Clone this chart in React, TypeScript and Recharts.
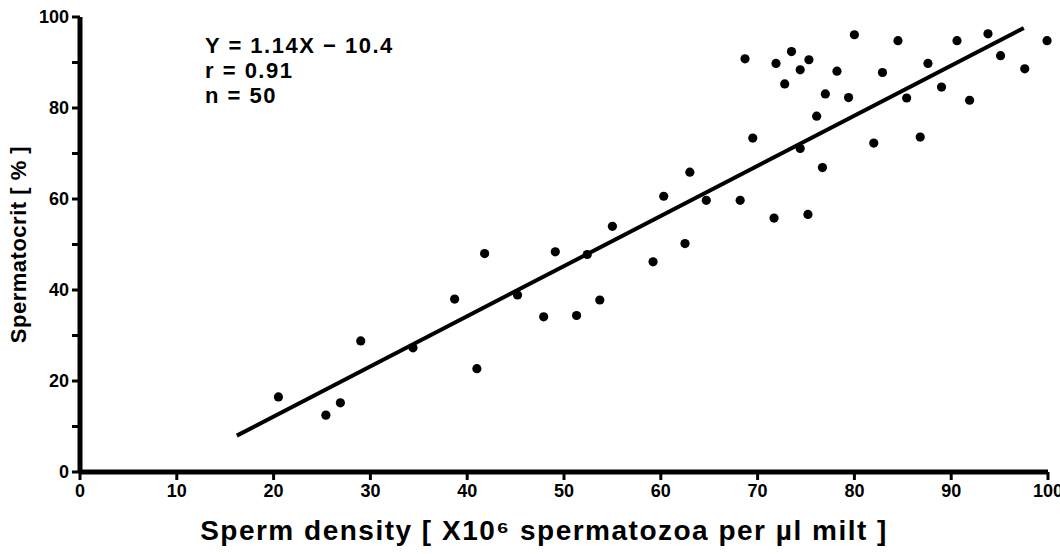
import {
  ReferenceLine,
  Scatter,
  ScatterChart,
  XAxis,
  YAxis,
} from "recharts";

// sperm density (x10^6 per µl)
const densityX = [
  20.5, 25.4, 26.9, 29.0, 34.4, 38.7, 41.0, 41.8, 45.2, 47.9,
  49.1, 51.3, 52.4, 53.7, 55.0, 59.2, 60.3, 62.5, 63.0, 64.7,
  68.2, 69.5, 68.7, 71.7, 71.9, 72.8, 73.5, 74.4, 75.3, 74.4,
  75.2, 76.1, 76.7, 77.0, 78.2, 79.4, 80.0, 82.0, 82.9, 84.5,
  85.4, 86.8, 87.6, 89.0, 90.6, 91.9, 93.8, 95.1, 97.6, 99.9,
];

// spermatocrit (%)
const spermatocritY = [
  16.5, 12.5, 15.2, 28.8, 27.3, 38.0, 22.7, 48.0, 38.9, 34.1,
  48.4, 34.4, 47.8, 37.8, 54.0, 46.2, 60.6, 50.2, 65.9, 59.7,
  59.7, 73.4, 90.8, 55.8, 89.8, 85.3, 92.4, 88.4, 90.6, 71.1,
  56.6, 78.2, 66.9, 83.1, 88.1, 82.3, 96.1, 72.3, 87.8, 94.8,
  82.2, 73.6, 89.8, 84.6, 94.8, 81.7, 96.3, 91.5, 88.6, 94.8,
];

// fitted line ends as drawn
const fitX = [16.2, 97.5];
const fitY = [8.0, 97.6];

const xTicks = [0, 10, 20, 30, 40, 50, 60, 70, 80, 90, 100];
const yTicks = [0, 10, 20, 30, 40, 50, 60, 70, 80, 90, 100];
const yLabelled = [0, 20, 40, 60, 80, 100];

const statLines = ["Y = 1.14X \u2212 10.4", "r = 0.91", "n = 50"];

const points = densityX.map((x, i) => ({ x, y: spermatocritY[i] }));

const FONT = "'Liberation Sans', Arial, sans-serif";
const INK = "#000";
const TICK_LEN = 8;
const TICK_GAP = 3;

const Dot = (props: { cx?: number; cy?: number }) => {
  if (props.cx == null || props.cy == null) return null;
  return <circle cx={props.cx} cy={props.cy} r={4.6} fill={INK} />;
};

type TickProps = { x?: number; y?: number; payload?: { value: number } };

// draws its own tick mark so the stroke weight matches the scan
const XTick = ({ x = 0, y = 0, payload }: TickProps) => (
  <g>
    <line
      x1={x}
      x2={x}
      y1={y - TICK_LEN - TICK_GAP}
      y2={y - TICK_GAP}
      stroke={INK}
      strokeWidth={3}
    />
    <text
      x={x}
      y={y}
      dy={14}
      textAnchor="middle"
      fill={INK}
      fontSize={18}
      fontWeight={700}
      fontFamily={FONT}
    >
      {payload?.value}
    </text>
  </g>
);

const YTick = ({ x = 0, y = 0, payload }: TickProps) => (
  <g>
    <line
      x1={x + TICK_GAP}
      x2={x + TICK_GAP + TICK_LEN}
      y1={y}
      y2={y}
      stroke={INK}
      strokeWidth={3}
    />
    {payload && yLabelled.includes(payload.value) && (
      <text
        x={x}
        y={y}
        dy={6}
        textAnchor="end"
        fill={INK}
        fontSize={18}
        fontWeight={700}
        fontFamily={FONT}
      >
        {payload.value}
      </text>
    )}
  </g>
);

export default function App() {
  return (
    <div
      style={{
        position: "absolute",
        left: 0,
        top: 0,
        width: 1060,
        height: 554,
        background: "#fff",
        fontFamily: FONT,
      }}
    >
      <ScatterChart
        width={1060}
        height={554}
        margin={{ top: 17, right: 12, bottom: 0, left: 0 }}
      >
        <XAxis
          type="number"
          dataKey="x"
          domain={[0, 100]}
          ticks={xTicks}
          height={82}
          tickSize={TICK_LEN}
          tickMargin={TICK_GAP}
          axisLine={false}
          tickLine={false}
          tick={XTick}
          label={{
            value: "Sperm density [ X10\u2076 spermatozoa per \u00b5l milt ]",
            position: "insideBottom",
            offset: 14,
            dx: -20,
            style: {
              fill: INK,
              fontSize: 28,
              fontWeight: 700,
              fontFamily: FONT,
              letterSpacing: 1.5,
            },
          }}
        />
        <YAxis
          type="number"
          dataKey="y"
          domain={[0, 100]}
          ticks={yTicks}
          width={80}
          tickSize={TICK_LEN}
          tickMargin={TICK_GAP}
          axisLine={false}
          tickLine={false}
          tick={YTick}
          label={{
            value: "Spermatocrit [ % ]",
            angle: -90,
            position: "insideLeft",
            offset: 18,
            style: {
              fill: INK,
              fontSize: 22,
              fontWeight: 700,
              fontFamily: FONT,
              letterSpacing: 0.5,
              textAnchor: "middle",
            },
          }}
        />
        <ReferenceLine
          segment={[
            { x: xTicks[0], y: yTicks[0] },
            { x: xTicks[xTicks.length - 1], y: yTicks[0] },
          ]}
          stroke={INK}
          strokeWidth={5}
          ifOverflow="visible"
        />
        <ReferenceLine
          segment={[
            { x: xTicks[0], y: yTicks[0] },
            { x: xTicks[0], y: yTicks[yTicks.length - 1] },
          ]}
          stroke={INK}
          strokeWidth={5}
          ifOverflow="visible"
        />
        <ReferenceLine
          segment={[
            { x: fitX[0], y: fitY[0] },
            { x: fitX[1], y: fitY[1] },
          ]}
          stroke={INK}
          strokeWidth={4}
          ifOverflow="visible"
        />
        <Scatter data={points} shape={Dot} isAnimationActive={false} />
      </ScatterChart>
      <div
        style={{
          position: "absolute",
          left: 205,
          top: 33,
          fontSize: 22,
          fontWeight: 700,
          letterSpacing: 1.5,
          lineHeight: "25px",
          color: INK,
          whiteSpace: "pre",
        }}
      >
        {statLines.map((s) => (
          <div key={s}>{s}</div>
        ))}
      </div>
    </div>
  );
}
